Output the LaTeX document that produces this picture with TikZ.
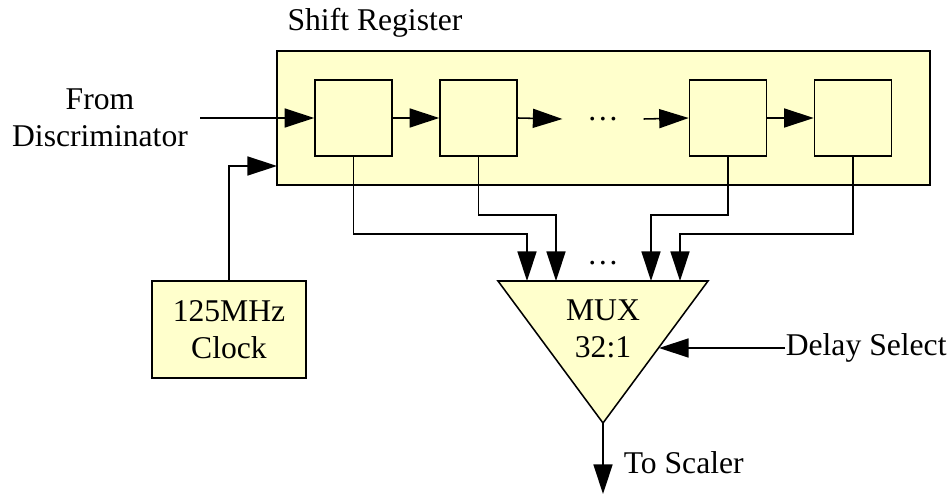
\documentclass[tikz,border=0pt]{standalone}
\usepackage{fontspec}
\setmainfont{Liberation Serif}
\usetikzlibrary{arrows.meta}
\definecolor{regfill}{HTML}{FFFFCC}

\begin{document}
\begin{tikzpicture}[x=0.025cm, y=-0.025cm, >={Triangle[length=21pt,width=13.5pt]}, line width=1.1pt,
  font=\fontsize{22.5}{26}\selectfont,
  blk/.style={draw, fill=regfill, inner sep=0pt},
  stage/.style={blk, minimum width=1.925cm, minimum height=1.9cm},
  lbl/.style={align=center, inner sep=0pt}]
\useasboundingbox (0,0) rectangle (952,497);

\node[blk, minimum width=16.325cm, minimum height=3.35cm] (sr) at (603.5,118) {};
\node[lbl] (srlbl) at (375,23) {Shift Register};
\node[stage] (r1) at (353.5,118) {};
\node[stage] (r2) at (478.5,118) {};
\node[stage] (r3) at (728,118) {};
\node[stage] (r4) at (853,118) {};
\node[lbl, inner xsep=0.6cm] (dots1) at (603,119) {\dots};

\node[lbl] (disc) at (100,118) {From\\Discriminator};
\node[blk, minimum width=3.85cm, minimum height=2.425cm, align=center] (clk) at (229,329.5) {125MHz\\Clock};

% mux
\coordinate (muxL) at (498,281);
\coordinate (muxR) at (708,281);
\coordinate (muxB) at (603,423);
\filldraw[fill=regfill] (muxL) -- (muxR) -- (muxB) -- cycle;
\node[lbl] (mux) at (603,329) {MUX\\32:1};
\node[lbl] (dots2) at (603,263) {\dots};
\node[lbl, anchor=west] (dsel) at (785,348) {Delay Select};
\node[lbl, anchor=west] (scaler) at (623,463) {To Scaler};

\coordinate (din) at (200,118);
\coordinate (clkin) at (277,166);
\coordinate (in1) at (527,281);
\coordinate (in2) at (556,281);
\coordinate (in3) at (651,281);
\coordinate (in4) at (680,281);
\coordinate (muxin) at (659,348);
\coordinate (out) at (603,494);

\draw[->] (din) -- (r1.west);
\draw[->] (r1.east) -- (r2.west);
\draw[->] (r2.east) -- (dots1.west);
\draw[->] (dots1.east) -- (r3.west);
\draw[->] (r3.east) -- (r4.west);
\draw[->] (clk.north) |- (clkin);

\draw[->] (r1.south) -- ++(0,77) -| (in1);
\draw[->] (r2.south) -- ++(0,58) -| (in2);
\draw[->] (r3.south) -- ++(0,58) -| (in3);
\draw[->] (r4.south) -- ++(0,77) -| (in4);

\draw[->] (dsel.west) -- (muxin);
\draw[->] (muxB) -- (out);
\end{tikzpicture}
\end{document}
